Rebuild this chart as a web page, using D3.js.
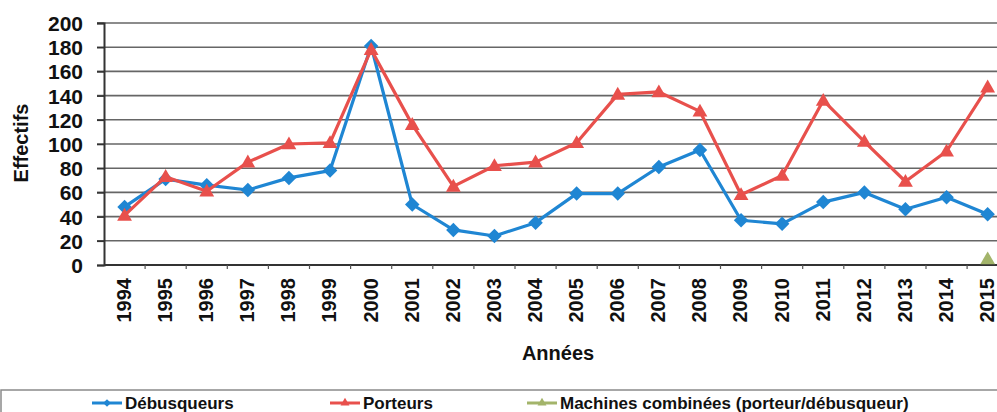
<!DOCTYPE html>
<html><head><meta charset="utf-8">
<script src="https://cdn.jsdelivr.net/npm/d3@7"></script>
<style>
html,body{margin:0;padding:0;background:#fff;overflow:hidden}
text{font-family:"Liberation Sans",Arial,sans-serif;font-weight:bold;fill:#111}
</style></head>
<body>
<svg id="chart" width="997" height="412"></svg>
<script>
const years = ["1994","1995","1996","1997","1998","1999","2000","2001","2002","2003","2004","2005","2006","2007","2008","2009","2010","2011","2012","2013","2014","2015"];
const debusqueurs = [48,71,66,62,72,78,181,50,29,24,35,59,59,81,95,37,34,52,60,46,56,42];
const porteurs = [41,73,61,85,100,101,178,116,65,82,85,101,141,143,127,58,74,136,102,69,94,147];
const machinesCombinees = [null,null,null,null,null,null,null,null,null,null,null,null,null,null,null,null,null,null,null,null,null,5];
const yTicks = [0,20,40,60,80,100,120,140,160,180,200];
const seriesNames = ["Débusqueurs","Porteurs","Machines combinées (porteur/débusqueur)"];
const colors = ["#1f86d3","#e8504c","#a3b46a"];

const svg = d3.select("#chart");
const plotLeft = 104, plotTop = 23, plotBottom = 265, step = 41.1;
const x = d3.scaleBand().domain(years).range([plotLeft, plotLeft + step*years.length]).paddingInner(0).paddingOuter(0);
const y = d3.scaleLinear().domain([0,200]).range([plotBottom, plotTop]);

// gridlines
svg.append("g").selectAll("line").data(yTicks.filter(d=>d>0)).join("line")
  .attr("x1", plotLeft-7).attr("x2", 997).attr("y1", d=>y(d)).attr("y2", d=>y(d))
  .attr("stroke","#666").attr("stroke-width",1.6);

// y axis
const yAxis = svg.append("g").attr("transform",`translate(${plotLeft},0)`)
  .call(d3.axisLeft(y).tickValues(yTicks).tickSize(7).tickPadding(14));
yAxis.select(".domain").attr("stroke","#333").attr("stroke-width",2);
yAxis.selectAll(".tick line").attr("stroke","#333").attr("stroke-width",1.6);
yAxis.selectAll("text").style("font-size","21px").attr("fill","#111").attr("dy","0.36em");

// x axis
const xAxis = svg.append("g").attr("transform",`translate(0,${plotBottom})`)
  .call(d3.axisBottom(x).tickSize(0).tickPadding(0));
xAxis.select(".domain").attr("stroke","#333").attr("stroke-width",2).attr("d",`M${plotLeft},0H997`);
xAxis.selectAll(".tick text")
  .style("font-size","20px").attr("fill","#111")
  .attr("text-anchor","end")
  .attr("transform","rotate(-90)")
  .attr("x",-13).attr("y",0).attr("dy","0.32em").attr("dx",0);
// boundary ticks
svg.append("g").selectAll("line").data(years.slice(1)).join("line")
  .attr("x1",d=>x(d)).attr("x2",d=>x(d)).attr("y1",plotBottom).attr("y2",plotBottom+4)
  .attr("stroke","#555").attr("stroke-width",1.2);

// axis titles
svg.append("text").attr("transform","translate(21,143) rotate(-90)")
  .attr("text-anchor","middle").attr("dy","0.36em").style("font-size","20px").text("Effectifs");
svg.append("text").attr("x",558).attr("y",353).attr("dy","0.36em")
  .attr("text-anchor","middle").style("font-size","20px").text("Années");

const cx = d => x(d) + x.bandwidth()/2;
const line = d3.line().defined(d=>d.v!=null).x(d=>cx(d.year)).y(d=>y(d.v));
const allSeries = [debusqueurs, porteurs, machinesCombinees].map((arr,i)=>({
  name: seriesNames[i], color: colors[i], data: years.map((yr,j)=>({year:yr, v:arr[j]}))
}));

const diamond = d3.symbol().type(d3.symbolSquare).size(105);
const tri = d3.symbol().type(d3.symbolTriangle).size(95);

[0,1,2].forEach(i=>{
  const s = allSeries[i];
  const g = svg.append("g");
  g.append("path").datum(s.data).attr("d",line).attr("fill","none")
    .attr("stroke",s.color).attr("stroke-width",3.2).attr("stroke-linejoin","round");
  const pts = g.selectAll("path.m").data(s.data.filter(d=>d.v!=null)).join("path").attr("class","m")
    .attr("fill",s.color);
  if(i===0){
    pts.attr("d",diamond).attr("transform",d=>`translate(${cx(d.year)},${y(d.v)}) rotate(45)`);
  } else {
    pts.attr("d",tri).attr("transform",d=>`translate(${cx(d.year)},${y(d.v)+1})`);
  }
});

// legend
svg.append("rect").attr("x",1).attr("y",390).attr("width",1100).attr("height",60)
  .attr("fill","none").attr("stroke","#8a8a8a").attr("stroke-width",1.5);
const legX = [92, 330, 527];
allSeries.forEach((s,i)=>{
  const g = svg.append("g").attr("transform",`translate(${legX[i]},403)`);
  g.append("line").attr("x1",0).attr("x2",30).attr("y1",0).attr("y2",0)
    .attr("stroke",s.color).attr("stroke-width",3);
  if(i===0) g.append("path").attr("d",d3.symbol().type(d3.symbolSquare).size(30)).attr("transform","translate(15,0) rotate(45)").attr("fill",s.color);
  else g.append("path").attr("d",d3.symbol().type(d3.symbolTriangle).size(35)).attr("transform","translate(15,0)").attr("fill",s.color);
  g.append("text").attr("x",33).attr("y",0).attr("dy","0.36em").style("font-size","17px").text(s.name);
});
</script>
</body></html>
